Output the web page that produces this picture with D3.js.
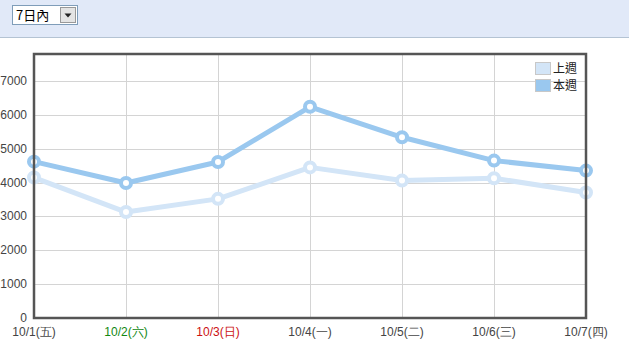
<!DOCTYPE html>
<html>
<head>
<meta charset="utf-8">
<script src="https://cdn.jsdelivr.net/npm/d3@7"></script>
<style>
  body { margin: 0; background: #fff; }
  svg { display: block; font-family: "Liberation Sans", Arial, sans-serif; }
</style>
</head>
<body>
<div id="container"></div>
<script>
/* DATA */
const days = ["10/1(五)", "10/2(六)", "10/3(日)", "10/4(一)", "10/5(二)", "10/6(三)", "10/7(四)"]
const dayColors = ["#444", "#118811", "#cc1111", "#444", "#444", "#444", "#444"]
const lastWeek = [4150, 3130, 3520, 4450, 4060, 4130, 3710]
const thisWeek = [4620, 3990, 4610, 6240, 5340, 4650, 4355]
const yTicks = [0, 1000, 2000, 3000, 4000, 5000, 6000, 7000]
const seriesNames = ["上週", "本週"]
const seriesColors = ["#d3e5f7", "#9ac8ef"]

/* CONSTANTS */
const width = 629, height = 355
const margin = { top: 54, bottom: 37, left: 34, right: 43 }

const svg = d3.select("#container").append("svg")
  .attr("width", width)
  .attr("height", height)

// top bar with the select box
svg.append("rect").attr("x", 0).attr("y", 0).attr("width", width).attr("height", 37).attr("fill", "#e1e9f8")
svg.append("line").attr("x1", 0).attr("x2", width).attr("y1", 37.5).attr("y2", 37.5).attr("stroke", "#b4c3d3")

const sel = svg.append("g").attr("transform", "translate(12,5)")
sel.append("rect").attr("x", 0.5).attr("y", 0.5).attr("width", 65).attr("height", 19)
  .attr("fill", "#fff").attr("stroke", "#7f9db9")
sel.append("text").attr("x", 4).attr("y", 15).attr("font-size", 13).attr("fill", "#000")
  .style("font-family", "'Noto Sans CJK TC', sans-serif").text("7日內")
sel.append("rect").attr("x", 48.5).attr("y", 2.5).attr("width", 15).attr("height", 15)
  .attr("fill", "#e4e4e4").attr("stroke", "#999")
sel.append("path").attr("d", "M52.5,8.5 L59.5,8.5 L56,12.5 Z").attr("fill", "#222")

// SCALES
const xScale = d3.scalePoint()
  .domain(days)
  .range([margin.left, width - margin.right])

const yScale = d3.scaleLinear()
  .domain([0, 7800])
  .range([height - margin.bottom, margin.top])

const plotBottom = height - margin.bottom

// grid
svg.append("g").selectAll("line").data(yTicks.slice(1)).join("line")
  .attr("x1", margin.left).attr("x2", width - margin.right)
  .attr("y1", d => Math.round(yScale(d)) + 0.5).attr("y2", d => Math.round(yScale(d)) + 0.5)
  .attr("stroke", "#d4d4d4")

svg.append("g").selectAll("line").data(days.slice(1, -1)).join("line")
  .attr("x1", d => Math.round(xScale(d)) + 0.5).attr("x2", d => Math.round(xScale(d)) + 0.5)
  .attr("y1", margin.top).attr("y2", plotBottom)
  .attr("stroke", "#d4d4d4")

// axis labels
svg.append("g").selectAll("text").data(yTicks).join("text")
  .attr("x", 27).attr("y", d => yScale(d) + 4)
  .attr("text-anchor", "end").attr("font-size", 12).attr("fill", "#444")
  .text(d => d)

svg.append("g").selectAll("text").data(days).join("text")
  .attr("x", d => xScale(d)).attr("y", plotBottom + 18)
  .attr("text-anchor", "middle").attr("font-size", 12)
  .attr("fill", (d, i) => dayColors[i])
  .text(d => d)

// lines
const lineGen = d3.line()
  .x((d, i) => xScale(days[i]))
  .y(d => yScale(d))

const series = [lastWeek, thisWeek]
series.forEach((s, k) => {
  svg.append("path")
    .datum(s)
    .attr("fill", "none")
    .attr("stroke", seriesColors[k])
    .attr("stroke-width", 5)
    .attr("stroke-linejoin", "round")
    .attr("d", lineGen)
  svg.append("g").selectAll("circle").data(s).join("circle")
    .attr("cx", (d, i) => xScale(days[i]))
    .attr("cy", d => yScale(d))
    .attr("r", 5)
    .attr("fill", "#fff")
    .attr("stroke", seriesColors[k])
    .attr("stroke-width", 4)
})

// frame
svg.append("rect")
  .attr("x", margin.left).attr("y", margin.top)
  .attr("width", width - margin.left - margin.right)
  .attr("height", plotBottom - margin.top)
  .attr("fill", "none").attr("stroke", "#555").attr("stroke-width", 2.5)

// legend
const legend = svg.append("g").attr("transform", "translate(535,62)")
seriesNames.forEach((name, i) => {
  legend.append("rect").attr("x", 0.5).attr("y", i * 17 + 0.5).attr("width", 15).attr("height", 12)
    .attr("fill", seriesColors[i]).attr("stroke", "#c8c8c8")
  legend.append("text").attr("x", 18).attr("y", i * 17 + 11).attr("font-size", 12).attr("fill", "#222")
    .style("font-family", "'Noto Sans CJK TC', sans-serif").text(name)
})
</script>
</body>
</html>
